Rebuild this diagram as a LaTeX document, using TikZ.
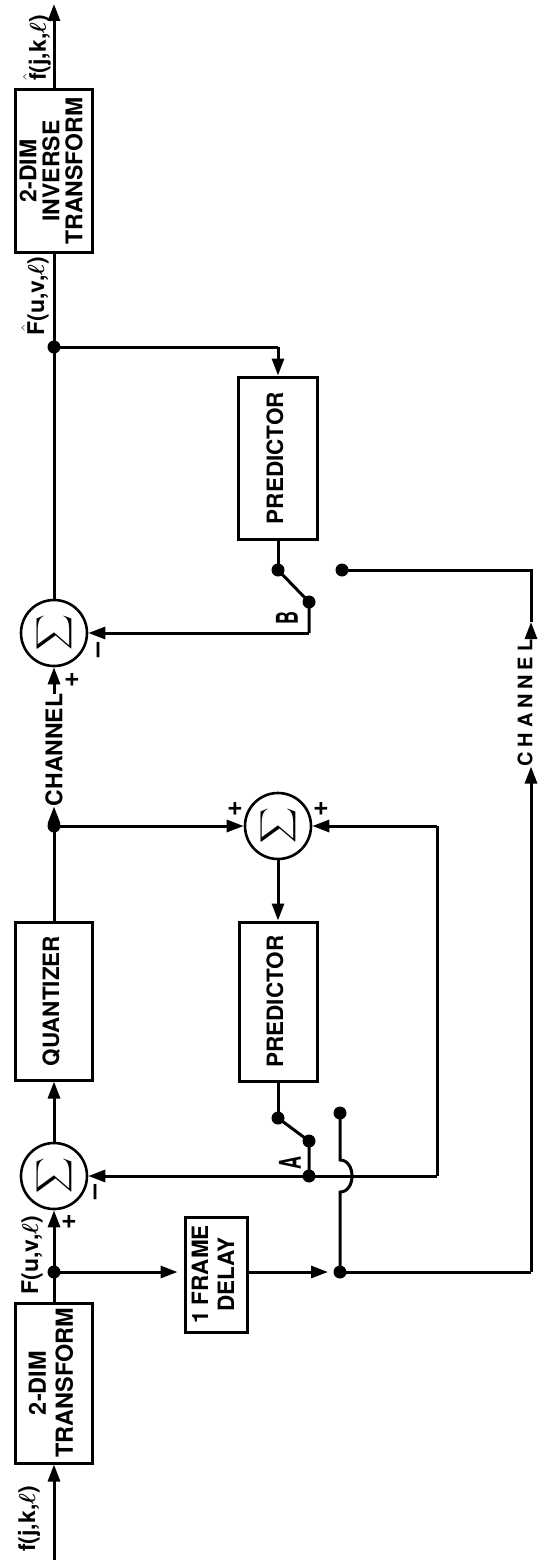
\RequirePackage{fix-cm}
\documentclass[tikz,border=0pt]{standalone}
\usepackage{exscale}
\usepackage{fontspec}
\setmainfont{TeX Gyre Heros}
\usepackage{graphicx}
\usetikzlibrary{arrows.meta}
\newcommand{\rtxt}[3]{\rotatebox{90}{\fontsize{#1}{#2}\selectfont\bfseries\begin{tabular}{@{}c@{}}#3\end{tabular}}}
\newcommand{\sumsym}{\rotatebox{90}{\fontsize{27}{27}\selectfont$\displaystyle\sum$}}
\newcommand{\swlab}[1]{\rotatebox{90}{\scalebox{0.6}[1]{\fontsize{30}{30}\selectfont\bfseries #1}}}
\newcommand{\lell}{{\boldmath$\ell$}}
\begin{document}
\begin{tikzpicture}[x=1pt,y=-1pt,
  ln/.style={line width=3pt},
  box/.style={draw,line width=3pt,inner sep=0pt},
  arr/.style={ln,-{Triangle[length=17pt,width=12pt]}},
  dot/.style={circle,fill,inner sep=0pt,minimum size=13pt},
  sumc/.style={circle,draw,line width=2.6pt,minimum size=66pt,inner sep=0pt},
  lab/.style={rotate=90,inner sep=0pt,font=\fontsize{23}{23}\selectfont\bfseries},
  chan/.style={rotate=90,inner sep=0pt,font=\fontsize{23}{23}\selectfont\bfseries},
  sgn/.style={inner sep=0pt,font=\fontsize{27}{27}\selectfont\bfseries}]
\useasboundingbox (0,0) rectangle (539,1560);
% boxes
\node[box,minimum width=77pt,minimum height=160pt] (tr) at (54,1383) {\rtxt{23.5}{27}{2-DIM\\TRANSFORM}};
\node[box,minimum width=77pt,minimum height=158pt] (qz) at (54,1001) {\rtxt{22.5}{26}{QUANTIZER}};
\node[box,minimum width=78pt,minimum height=159pt] (p2) at (278,1001.5) {\rtxt{22.5}{26}{PREDICTOR}};
\node[box,minimum width=79pt,minimum height=162pt] (p3) at (278,458) {\rtxt{22.5}{26}{PREDICTOR}};
\node[box,minimum width=77pt,minimum height=162pt] (inv) at (54,171) {\rtxt{23}{20}{2-DIM\\INVERSE\\TRANSFORM}};
\node[box,minimum width=62pt,minimum height=115pt] (dl) at (216,1274.5) {\rtxt{22.5}{26}{1 FRAME\\DELAY}};
% summers
\node[sumc] (s1) at (54,1176) {\sumsym};
\node[sumc] (s2) at (278,826) {\sumsym};
\node[sumc] (s3) at (54,633) {\sumsym};
% junctions and contacts
\node[dot] (j1) at (54,1272) {};
\node[dot] (j2) at (340,1272) {};
\node[dot] (j3) at (54,826) {};
\node[dot] (j4) at (54,347) {};
\node[dot] (pa) at (278,1118) {};
\node[dot] (ca) at (309,1141) {};
\node[dot] (da) at (309,1176) {};
\node[dot] (oa) at (340,1113) {};
\node[dot] (pb) at (278,570) {};
\node[dot] (cb) at (309,602) {};
\node[dot] (ob) at (342,570) {};
\coordinate (in) at (54,1560);
\coordinate (out) at (54,4);
\coordinate (fbr) at (437,1176);
\coordinate (fbt) at (437,826);
\coordinate (rb) at (531,1272);
\coordinate (rt) at (531,570);
\coordinate (rtip) at (531,622);
\coordinate (bc) at (309,633);
\coordinate (p3t) at (278,347);
\coordinate (ja) at (340,1160);
\coordinate (jb) at (340,1192);
% texts
\node[chan] (ch1) at (54,750) {CHANNEL};
\node[chan,font=\fontsize{20}{20}\selectfont\bfseries] (ch2) at (525,703) {\addfontfeature{LetterSpace=24}CHANNEL};
\node[lab] (lf) at (29,1519) {f(j,k,\lell)};
\node[lab] (lF) at (32,1255) {F(u,v,\lell)};
\node[lab] (lFh) at (35,296) {$\hat{\hbox{F}}$(u,v,\lell)};
\node[lab] (lfh) at (37,48) {$\hat{\hbox{f}}$(j,k,\lell)};
\node[inner sep=0pt] (la) at (290,1163) {\swlab{A}};
\node[inner sep=0pt] (lb) at (287,618) {\swlab{B}};
\node[sgn] (s1p) at (69,1222) {+};
\node[sgn,rotate=90] (s1m) at (98,1192) {--};
\node[sgn] (s2p) at (235,809) {+};
\node[sgn] (s2q) at (321,809) {+};
\node[sgn] (s3p) at (72,680) {+};
\node[sgn,rotate=90] (s3m) at (101,650) {--};
% connectors
\draw[arr] (in) -- (tr.south);
\draw[ln] (tr.north) -- (j1.center);
\draw[arr] (j1.center) -- (s1.south);
\draw[arr,shorten >=6pt] (j1.center) -- (j1 -| dl.west);
\draw[arr,shorten >=12pt] (j2 -| dl.east) -- (j2.center);
\draw[ln] (j2.center) -- (rb);
\draw[arr] (rb) -- (ch2.west -| rb);
\draw[arr] (s1.north) -- (qz.south);
\draw[ln] (qz.north) -- (j3.center);
\draw[arr] (j3.center) -- (ch1.west);
\draw[arr] (ch1.east) -- (s3.south);
\draw[arr] (j3.center) -- (s2.west);
\draw[arr] (s2.south) -- (p2.north);
\draw[ln] (fbr) -- (fbt);
\draw[arr] (fbt) -- (s2.east);
\draw[arr] (fbr) -- (s1.east);
\draw[ln] (p2.south) -- (pa.center);
\draw[ln] (pa.center) -- (ca.center) -- (da.center);
\draw[ln] (oa.center) -- (ja) .. controls (356,1160) and (356,1192) .. (jb) -- (j2.center);
\draw[ln] (s3.north) -- (j4.center) -- (inv.south);
\draw[arr] (inv.north) -- (out);
\draw[ln] (j4.center) -- (p3t);
\draw[arr] (p3t) -- (p3.north);
\draw[ln] (p3.south) -- (pb.center);
\draw[ln] (pb.center) -- (cb.center) -- (bc);
\draw[arr] (bc) -- (s3.east);
\draw[ln] (ob.center) -- (rt) -- (rtip);
\draw[arr] (ch2.east -| rtip) -- (rtip);
\end{tikzpicture}
\end{document}
